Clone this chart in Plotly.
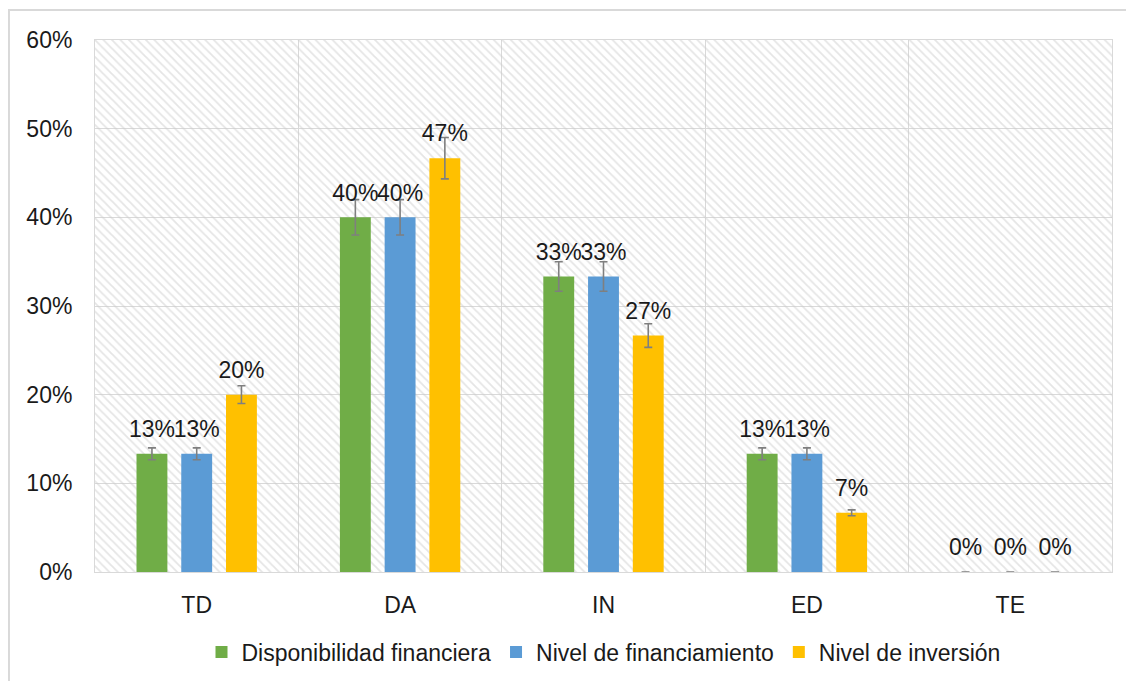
import plotly.graph_objects as go

categories = ["TD", "DA", "IN", "ED", "TE"]
disponibilidad = [0.1333, 0.40, 0.3333, 0.1333, 0.0]
financiamiento = [0.1333, 0.40, 0.3333, 0.1333, 0.0]
inversion = [0.20, 0.4667, 0.2667, 0.0667, 0.0]
series_names = ["Disponibilidad financiera", "Nivel de financiamiento", "Nivel de inversión"]
colors = ["#70ad47", "#5b9bd5", "#ffc000"]
error_percent = 5

FONT = "Liberation Sans, Arial, sans-serif"
TXT = "#1a1a1a"
FS = 23
BARGAP = 0.34

fig = go.Figure()

# hatched plot background (base subplot, hidden axis)
fig.add_trace(go.Bar(
    x=[0.5], y=[0.6], width=[1], xaxis="x", yaxis="y",
    marker=dict(color="rgba(0,0,0,0)", line=dict(width=0),
                pattern=dict(shape="\\", fgcolor="#cccccc", bgcolor="rgba(0,0,0,0)",
                             size=6, solidity=0.3)),
    showlegend=False, hoverinfo="skip",
))

for name, vals, col in zip(series_names, [disponibilidad, financiamiento, inversion], colors):
    fig.add_trace(go.Bar(
        name=name, x=categories, y=vals, xaxis="x2", yaxis="y",
        marker=dict(color=col, line=dict(width=0)),
        error_y=dict(type="percent", value=error_percent, color="#7f7f7f",
                     thickness=1.6, width=4),
        hoverinfo="skip",
    ))

# value labels (grouped like the bars)
for name, vals in zip(series_names, [disponibilidad, financiamiento, inversion]):
    fig.add_trace(go.Scatter(
        x=categories, y=vals, xaxis="x2", yaxis="y",
        mode="markers+text", marker=dict(size=16, opacity=0),
        text=[f"{v:.0%}" for v in vals], textposition="top center",
        textfont=dict(family=FONT, size=FS, color=TXT),
        cliponaxis=False, showlegend=False, hoverinfo="skip",
    ))

fig.update_layout(
    width=1134, height=681,
    paper_bgcolor="white", plot_bgcolor="white",
    margin=dict(l=87, r=30, t=32, b=117),
    barmode="group", bargap=BARGAP, bargroupgap=0.31,
    scattermode="group", scattergap=BARGAP,
    font=dict(family=FONT, size=FS, color=TXT),
    xaxis=dict(range=[0, 1], visible=False, fixedrange=True),
    xaxis2=dict(overlaying="x", anchor="y", type="category",
                tickson="boundaries", showgrid=True, gridcolor="#d9d9d9", gridwidth=1,
                showline=True, linecolor="#d9d9d9", linewidth=1, mirror=True,
                ticks="", ticklabelstandoff=12,
                tickfont=dict(family=FONT, size=FS, color=TXT)),
    yaxis=dict(range=[0, 0.6], dtick=0.1, tickformat=".0%",
               showgrid=True, gridcolor="#d9d9d9", gridwidth=1,
               showline=True, linecolor="#d9d9d9", linewidth=1, mirror=True,
               zeroline=False, ticks="", ticklabelstandoff=17,
               tickfont=dict(family=FONT, size=FS, color=TXT)),
    legend=dict(orientation="h", x=0.5, xanchor="center", y=-0.11, yanchor="top",
                font=dict(family=FONT, size=FS, color=TXT), traceorder="normal"),
    shapes=[dict(type="rect", xref="paper", yref="paper",
                 x0=-0.0846, x1=1.1, y0=-0.3, y1=1.0564,
                 line=dict(color="#d9d9d9", width=2), fillcolor="rgba(0,0,0,0)",
                 layer="below")],
)

fig.write_html("out.html")
